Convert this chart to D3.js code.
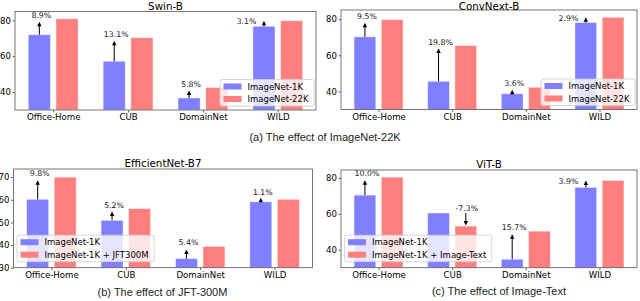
<!DOCTYPE html>
<html>
<head>
<meta charset="utf-8">
<script src="https://cdn.jsdelivr.net/npm/d3@7"></script>
<style>
  body { margin: 0; background: #fff; }
  svg { display: block; }
  text { font-family: "DejaVu Sans", sans-serif; }
</style>
</head>
<body>
<div id="chart"></div>
<script>
// categories and values
var categories = ["Office-Home", "CUB", "DomainNet", "WILD"];

var swinBase = [72.0, 57.2, 36.7, 76.7];
var swinPlus = [80.9, 70.3, 42.5, 79.8];
var swinGain = ["8.9%", "13.1%", "5.8%", "3.1%"];

var convBase = [70.2, 45.6, 38.7, 78.1];
var convPlus = [79.7, 65.4, 42.3, 81.0];
var convGain = ["9.5%", "19.8%", "3.6%", "2.9%"];

var effBase = [60.2, 50.9, 34.0, 59.1];
var effPlus = [70.0, 56.1, 39.4, 60.2];
var effGain = ["9.8%", "5.2%", "5.4%", "1.1%"];

var vitBase = [70.5, 60.5, 34.7, 74.8];
var vitPlus = [80.5, 53.2, 50.4, 78.7];
var vitGain = ["10.0%", "-7.3%", "15.7%", "3.9%"];

var ticks20 = [40, 60, 80];
var ticks10 = [30, 40, 50, 60, 70];

var captions = ["(a) The effect of ImageNet-22K", "(b) The effect of JFT-300M", "(c) The effect of Image-Text"];

var blue = "#7f7fff", red = "#ff7f7f";

var panels = [
    {title: "Swin-B", base: swinBase, plus: swinPlus, gain: swinGain,
     legend: ["ImageNet-1K", "ImageNet-22K"], legendPos: "right",
     labelSide: ["top", "top", "top", "left"],
     left: 15, right: 316, top: 11.5, bottom: 110, yDomain: [30, 84.95], yTicks: ticks20},
    {title: "ConvNext-B", base: convBase, plus: convPlus, gain: convGain,
     legend: ["ImageNet-1K", "ImageNet-22K"], legendPos: "right",
     labelSide: ["top", "top", "top", "left"],
     left: 341, right: 637, top: 10, bottom: 109.5, yDomain: [30, 85.05], yTicks: ticks20},
    {title: "EfficientNet-B7", base: effBase, plus: effPlus, gain: effGain,
     legend: ["ImageNet-1K", "ImageNet-1K + JFT300M"], legendPos: "left",
     labelSide: ["top", "top", "top", "top"],
     left: 13.5, right: 312.5, top: 169, bottom: 267.7, yDomain: [30, 73.6], yTicks: ticks10},
    {title: "ViT-B", base: vitBase, plus: vitPlus, gain: vitGain,
     legend: ["ImageNet-1K", "ImageNet-1K + Image-Text"], legendPos: "left",
     labelSide: ["top", "top", "top", "left"],
     left: 341, right: 637, top: 170, bottom: 267.7, yDomain: [30, 84.5], yTicks: ticks20}
];

var svg = d3.select("#chart").append("svg")
    .attr("width", 640)
    .attr("height", 301);

function arrow(g, x0, y0, y1) {
    // line from y0 to y1 with a filled head at y1
    var dir = y1 < y0 ? 1 : -1;
    var hl = 4.5, hw = 2.2;
    g.append("line")
        .attr("x1", x0).attr("x2", x0)
        .attr("y1", y0).attr("y2", y1 + dir * hl * 0.6)
        .attr("stroke", "#000")
        .attr("stroke-width", 1);
    g.append("path")
        .attr("d", "M" + x0 + "," + y1 + "L" + (x0 - hw) + "," + (y1 + dir * hl) +
            "L" + (x0 + hw) + "," + (y1 + dir * hl) + "Z")
        .attr("fill", "#000");
}

panels.forEach(function(p) {
    var x = d3.scaleLinear().domain([-0.51, 3.51]).range([p.left, p.right]);
    var y = d3.scaleLinear().domain(p.yDomain).range([p.bottom, p.top]);
    var off = 0.185, bw = x(0.295) - x(0);
    var g = svg.append("g");

    // bars
    [[p.base, -off, blue], [p.plus, off, red]].forEach(function(s) {
        g.selectAll(null)
            .data(s[0])
            .enter().append("rect")
            .attr("x", (d, i) => x(i + s[1]) - bw / 2)
            .attr("y", d => y(d))
            .attr("width", bw)
            .attr("height", d => p.bottom - y(d))
            .attr("fill", s[2])
            .attr("stroke", "#fff")
            .attr("stroke-opacity", 0.5)
            .attr("stroke-width", 0.8);
    });

    // arrows and gain labels
    p.base.forEach(function(b, i) {
        var yb = y(b), yp = y(p.plus[i]);
        var lab = g.append("text")
            .attr("font-size", "7.8px")
            .attr("fill", "#222")
            .text(p.gain[i]);
        if (p.plus[i] < b) {
            var ax = x(i + off);
            arrow(g, ax, yb, yp - 0.5);
            lab.attr("x", ax + 1).attr("y", yb - 2.5).attr("text-anchor", "middle");
        } else if (p.labelSide[i] === "left") {
            var ax = x(i - off);
            arrow(g, ax, yb, Math.min(yp, yb - 5));
            lab.attr("x", ax - 7.5).attr("y", yp + 1.2)
                .attr("dominant-baseline", "central")
                .attr("text-anchor", "end");
        } else {
            var ax = x(i - off);
            var tip = Math.min(yp + 3, yb - 4);
            arrow(g, ax, yb, tip);
            lab.attr("x", ax + 2).attr("y", Math.min(yp - 1, tip - 3))
                .attr("text-anchor", "middle");
        }
    });

    // axes
    var yAxis = d3.axisLeft(y).tickValues(p.yTicks).tickSize(2.5).tickPadding(1.5);
    var ya = g.append("g")
        .attr("transform", "translate(" + p.left + ",0)")
        .call(yAxis);
    var xAxis = d3.axisBottom(x).tickValues([0, 1, 2, 3])
        .tickFormat(i => categories[i]).tickSize(2.5).tickPadding(1.5);
    var xa = g.append("g")
        .attr("transform", "translate(0," + p.bottom + ")")
        .call(xAxis);
    [ya, xa].forEach(function(a) {
        a.select(".domain").remove();
        a.selectAll("line").attr("stroke", "#444").attr("stroke-width", 0.8);
        a.selectAll("text")
            .attr("fill", "#000")
            .style("font-family", "DejaVu Sans")
            .style("font-size", "8.6px");
    });

    // frame
    g.append("rect")
        .attr("x", p.left).attr("y", p.top)
        .attr("width", p.right - p.left).attr("height", p.bottom - p.top)
        .attr("fill", "none")
        .attr("stroke", "#555")
        .attr("stroke-width", 0.8);

    // title
    g.append("text")
        .attr("x", (p.left + p.right) / 2)
        .attr("y", Math.max(p.top - 2.2, 9.5))
        .attr("text-anchor", "middle")
        .attr("font-size", "10.3px")
        .attr("fill", "#000")
        .text(p.title);

    // legend
    var lg = g.append("g");
    var box = lg.append("rect")
        .attr("fill", "#fff").attr("fill-opacity", 0.8)
        .attr("stroke", "#ccc").attr("stroke-width", 0.8)
        .attr("rx", 2);
    var maxW = 0;
    p.legend.forEach(function(name, k) {
        var item = lg.append("g").attr("transform", "translate(0," + (k * 12.5) + ")");
        item.append("rect")
            .attr("x", 3.5).attr("y", -3)
            .attr("width", 18).attr("height", 6)
            .attr("fill", k === 0 ? blue : red);
        var t = item.append("text")
            .attr("x", 27.5).attr("y", 0)
            .attr("dominant-baseline", "central")
            .attr("font-size", "8.5px")
            .attr("fill", "#000")
            .text(name);
        maxW = Math.max(maxW, t.node().getComputedTextLength());
    });
    var lw = 27.5 + maxW + 5.5, lh = 26.5;
    box.attr("x", 0).attr("y", -7).attr("width", lw).attr("height", lh);
    var lx = p.legendPos === "right" ? p.right - 2 - lw : p.left + 3.5;
    var ly = p.legendPos === "right" ? p.bottom - 4 - lh + 7 : p.bottom - 6 - lh + 7;
    lg.attr("transform", "translate(" + lx + "," + ly + ")");
});

// sub-figure captions
var capX = [325, 162.5, 499], capY = [140.5, 296, 295];
captions.forEach(function(c, i) {
    svg.append("text")
        .attr("x", capX[i])
        .attr("y", capY[i])
        .attr("text-anchor", "middle")
        .style("font-family", "'Liberation Sans', Arial, sans-serif")
        .style("font-size", "11px")
        .attr("fill", "#222")
        .text(c);
});
</script>
</body>
</html>
